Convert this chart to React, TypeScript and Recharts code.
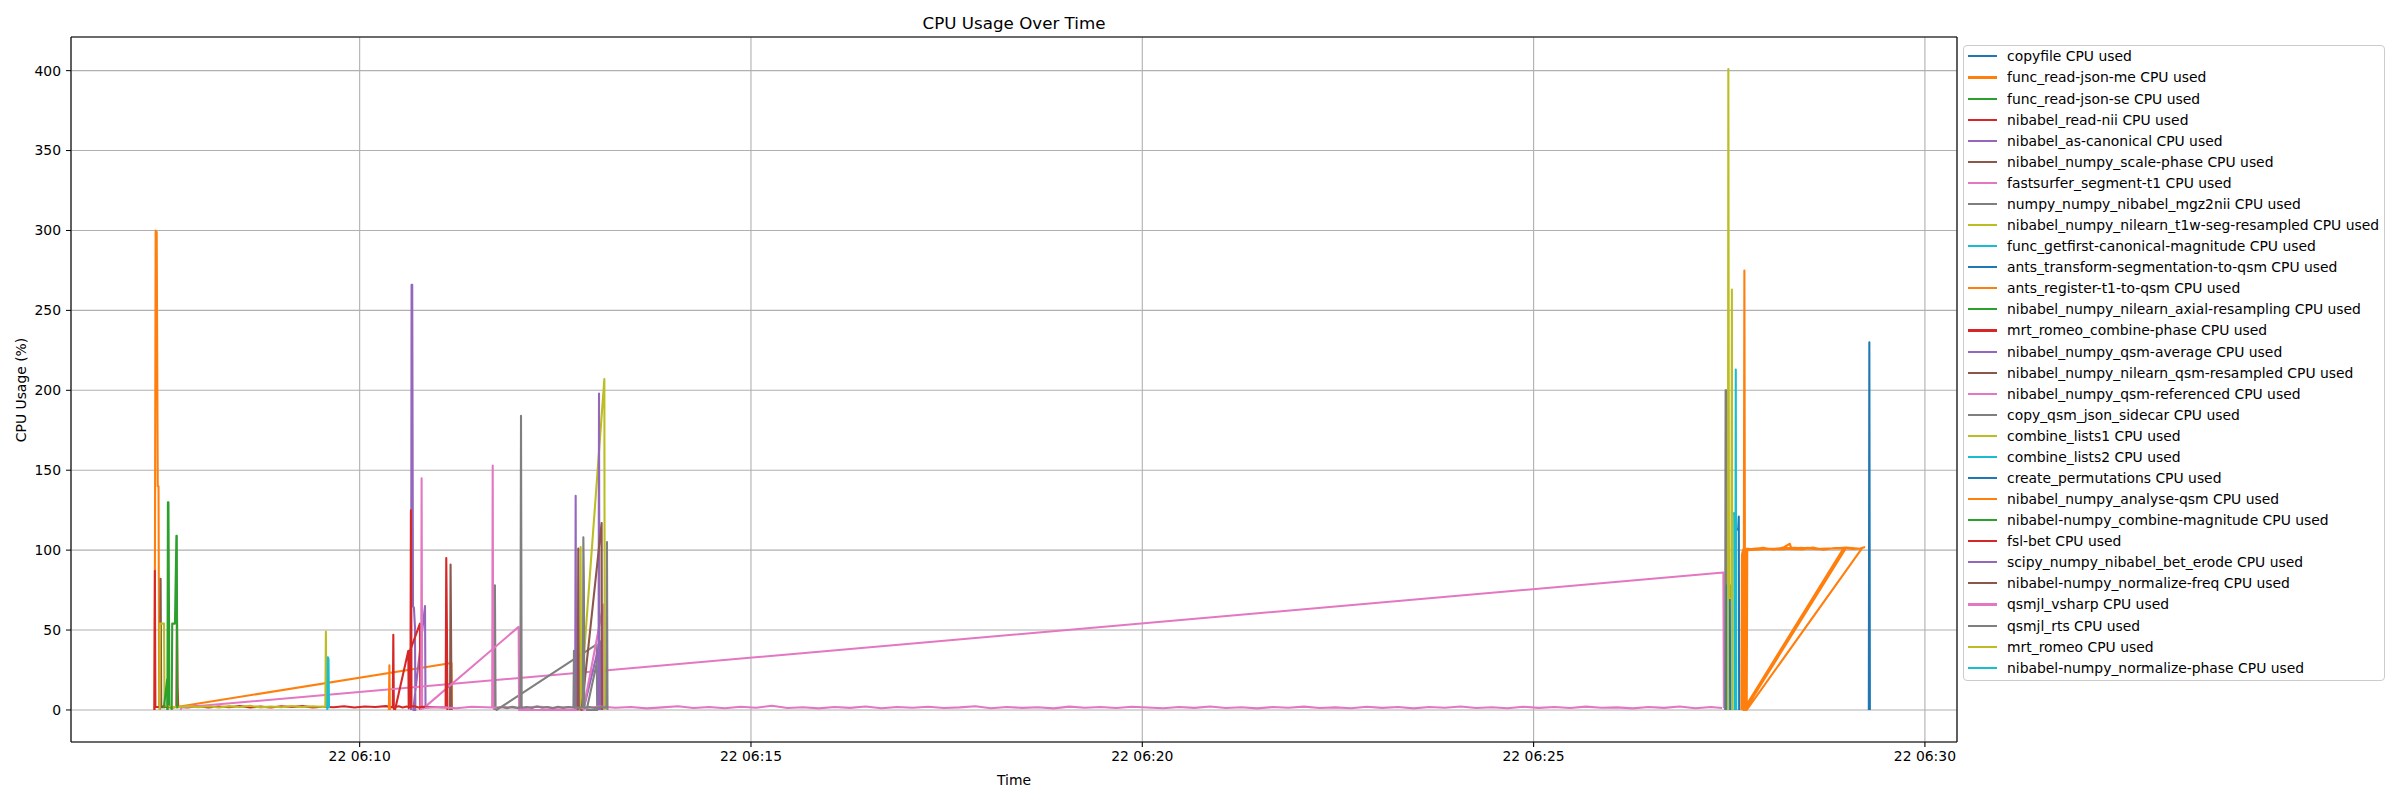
import React from 'react';
import { LineChart, Line, XAxis, YAxis, CartesianGrid, ReferenceLine } from 'recharts';

type Pt = [number, number];
// time = seconds after 22 06:00:00, value = CPU usage (%)

const copyfile: Pt[] = [[1757.0, 0], [1757.4, 230], [1757.8, 0]];
const funcReadJsonMe: Pt[] = [[442.8, 0], [443.6, 300], [444.4, 299], [445.2, 140], [445.8, 140], [446.3, 3], [450, 2.1], [455, 1.6], [460.9, 2], [670.4, 29.4], [670.8, 0]];
const funcReadJsonSe: Pt[] = [[452.6, 0], [453.0, 130], [453.4, 130], [453.8, 64], [454.1, 2], [455.5, 1.4]];
const nibabelReadNii: Pt[] = [[442.6, 0], [443.0, 87], [443.4, 2], [447, 1.6], [452, 2.2], [457, 1.5], [459.5, 2], [459.9, 62], [460.4, 15], [460.9, 2], [468, 1.6], [476, 2.4], [484, 1.5], [492, 2.2], [500, 1.7], [508, 2.5], [516, 1.6], [524, 2.1], [532, 1.5], [540, 2.3], [548, 1.8], [556, 2.4], [564, 1.6], [572, 2.0], [580, 1.7], [588, 2.3], [596, 1.5], [604, 2.2], [612, 1.8], [620, 2.4], [625.4, 1.6], [625.8, 47], [626.2, 1.5], [626.6, 0]];
const nibabelAsCanonical: Pt[] = [[639.4, 0], [639.8, 266], [640.3, 266], [640.9, 65], [641.6, 64], [642.4, 52], [642.7, 0], [641.1, 0], [650.1, 65], [650.5, 1]];
const scalePhase: Pt[] = [[446.9, 0], [447.4, 82], [447.9, 2], [449, 1.5]];
const fastsurfer: Pt[] = [[462.8, 0], [463.3, 1.5], [1645.5, 86], [1645.9, 1]];
const mgz2nii: Pt[] = [[703.3, 0], [703.7, 78], [704.2, 1], [705, 0], [781.7, 41], [782.1, 0], [774, 0], [784.3, 39], [784.7, 0]];
const t1wSegResampled: Pt[] = [[446.7, 0], [446.9, 54], [450, 54], [450.4, 3], [454, 2.2], [460, 1.6], [468, 2.5], [476, 1.7], [484, 2.3], [492, 1.5], [500, 2.4], [508, 1.8], [516, 2.6], [524, 1.6], [532, 2.2], [540, 1.7], [548, 2.5], [556, 1.9], [564, 2.3], [572, 1.8], [573.7, 2], [574.1, 49], [574.5, 2]];
const getfirstMagnitude: Pt[] = [[575.2, 0], [575.6, 33], [576.1, 32], [576.5, 1]];
const antsTransform: Pt[] = [[1654.5, 0], [1654.8, 113], [1656.9, 113], [1657.3, 121], [1657.6, 0]];
const antsRegister: Pt[] = [[622.4, 0], [622.8, 28], [623.2, 0]];
const axialResampling: Pt[] = [[455.9, 0], [456.3, 54], [458.4, 54], [459.5, 109], [459.8, 109], [460.2, 1]];
const romeoCombinePhase: Pt[] = [[627.1, 0], [637.3, 37], [637.6, 1], [638.6, 37], [646.2, 54], [646.5, 0]];
const qsmAverage: Pt[] = [[765.2, 0], [765.6, 134], [766, 2], [771.5, 0], [784.3, 43], [784.6, 0]];
const qsmResampled: Pt[] = [[669.3, 0], [669.7, 91], [670.1, 45], [670.4, 0]];
const qsmReferenced: Pt[] = [[647.1, 0], [647.5, 145], [647.9, 1], [648.8, 1], [721.9, 52], [722.2, 0], [771.5, 0], [786.8, 66], [787.1, 0]];
const copyQsmJson: Pt[] = [[1646.8, 0], [1647.2, 200], [1647.8, 200], [1648.1, 0]];
const combineLists1: Pt[] = [[769, 0], [769.4, 102], [769.8, 2], [768.9, 0], [787.6, 207], [787.9, 0]];
const combineLists2: Pt[] = [[1652.4, 0], [1652.7, 123], [1654.4, 123], [1654.7, 0]];
const createPermutations: Pt[] = [[1647.9, 0], [1648.2, 78], [1650.4, 78], [1650.7, 0]];
const analyseQsm: Pt[] = [
  [1659.3, 0], [1659.7, 97], [1660.5, 100], [1661.2, 101], [1661.6, 275], [1662.0, 101], [1668, 100.5], [1676, 101.5], [1684, 100.2], [1692, 101.8], [1696.5, 104], [1697.5, 101], [1706, 100.4], [1714, 101.6], [1722, 100.3], [1730, 101.2], [1737.5, 101],
  [1660.8, 0], [1661.2, 100], [1670, 101], [1680, 100.6], [1690, 101.3], [1700, 100.5], [1710, 101.4], [1720, 100.8], [1730, 101.1], [1739.3, 101],
  [1662.1, 0], [1662.5, 100], [1675, 101.2], [1690, 100.4], [1705, 101.5], [1720, 100.6], [1735, 101.3], [1745, 100.7], [1751.6, 101],
  [1663.4, 0], [1663.8, 100], [1680, 100.8], [1700, 101.4], [1720, 100.5], [1740, 101.6], [1750, 100.9], [1754.1, 102],
];
const combineMagnitude: Pt[] = [[449.8, 1], [452.4, 19], [452.7, 0]];
const fslBet: Pt[] = [[627, 1.8], [630, 2.3], [633, 1.6], [636, 2.2], [638.9, 1.7], [639.3, 125], [639.7, 2], [642, 2.4], [645, 1.5], [648, 2], [665.9, 1.5], [666.4, 95], [666.9, 50], [667.3, 0]];
const betErode: Pt[] = [[783.1, 0], [783.5, 198], [783.9, 0]];
const normalizeFreq: Pt[] = [[767.2, 0], [767.6, 101], [768, 2], [770.2, 0], [785.5, 117], [785.8, 0]];
const qsmjlVsharp: Pt[] = [
  [650, 1.3], [662, 1.9], [674, 1.1], [686, 2.0], [701.6, 1.5], [702, 153], [702.4, 1.4], [712, 1.8], [724, 1.0], [736, 2.1], [748, 1.3], [760, 1.7], [772, 1.1], [784, 2.2], [796, 1.4], [808, 1.9], [820, 1.0], [832, 1.6], [844, 2.3], [856, 1.2], [868, 1.8], [880, 1.1], [892, 2.0], [904, 1.4], [916, 2.6], [928, 1.2], [940, 1.7], [952, 1.0], [964, 1.9], [976, 1.3], [988, 2.2], [1000, 1.1], [1012, 1.8], [1024, 1.4], [1036, 2.0], [1048, 1.2], [1060, 1.6], [1072, 2.3], [1084, 1.1], [1096, 1.9], [1108, 1.3], [1120, 1.7], [1132, 1.0], [1144, 2.1], [1156, 1.4], [1168, 1.8], [1180, 1.2], [1192, 2.0], [1204, 1.5], [1216, 1.1], [1228, 1.9], [1240, 1.3], [1252, 2.2], [1264, 1.2], [1276, 1.7], [1288, 1.0], [1300, 1.8], [1312, 1.4], [1324, 2.1], [1336, 1.2], [1348, 1.6], [1360, 1.1], [1372, 2.0], [1384, 1.3], [1396, 1.8], [1408, 1.0], [1420, 1.9], [1432, 1.4], [1444, 2.2], [1456, 1.2], [1468, 1.7], [1480, 1.1], [1492, 2.0], [1504, 1.3], [1516, 1.8], [1528, 1.2], [1540, 2.1], [1552, 1.4], [1564, 1.6], [1576, 1.0], [1588, 1.9], [1600, 1.3], [1612, 2.2], [1624, 1.1], [1636, 1.8], [1644.5, 1.2],
];
const qsmjlRts: Pt[] = [[705, 1.2], [709, 1.8], [713, 1.1], [717, 2.0], [721, 1.3], [723.2, 1.6], [723.7, 184], [724.2, 1.4], [728, 1.9], [732, 1.2], [736, 2.1], [740, 1.4], [744, 1.8], [748, 1.1], [752, 2.0], [756, 1.3], [760, 1.9], [763.9, 1.5], [764.3, 37], [764.7, 1.5], [768, 1.2], [771.1, 1.8], [771.5, 108], [771.9, 80], [772.2, 1.4], [776, 1.8], [780, 1.2], [785, 1.9], [789.2, 1.4], [789.6, 105], [790, 0]];
const mrtRomeo: Pt[] = [[1648.9, 0], [1649.3, 401], [1649.8, 70], [1651.6, 70], [1652.0, 263], [1652.4, 0]];
const normalizePhase: Pt[] = [[1654.6, 0], [1655.0, 213], [1655.4, 0]];

const SERIES_NAMES = [
  'copyfile', 'func_read-json-me', 'func_read-json-se', 'nibabel_read-nii', 'nibabel_as-canonical',
  'nibabel_numpy_scale-phase', 'fastsurfer_segment-t1', 'numpy_numpy_nibabel_mgz2nii',
  'nibabel_numpy_nilearn_t1w-seg-resampled', 'func_getfirst-canonical-magnitude',
  'ants_transform-segmentation-to-qsm', 'ants_register-t1-to-qsm', 'nibabel_numpy_nilearn_axial-resampling',
  'mrt_romeo_combine-phase', 'nibabel_numpy_qsm-average', 'nibabel_numpy_nilearn_qsm-resampled',
  'nibabel_numpy_qsm-referenced', 'copy_qsm_json_sidecar', 'combine_lists1', 'combine_lists2',
  'create_permutations', 'nibabel_numpy_analyse-qsm', 'nibabel-numpy_combine-magnitude', 'fsl-bet',
  'scipy_numpy_nibabel_bet_erode', 'nibabel-numpy_normalize-freq', 'qsmjl_vsharp', 'qsmjl_rts',
  'mrt_romeo', 'nibabel-numpy_normalize-phase',
];
const SERIES_DATA: Pt[][] = [
  copyfile, funcReadJsonMe, funcReadJsonSe, nibabelReadNii, nibabelAsCanonical, scalePhase, fastsurfer,
  mgz2nii, t1wSegResampled, getfirstMagnitude, antsTransform, antsRegister, axialResampling,
  romeoCombinePhase, qsmAverage, qsmResampled, qsmReferenced, copyQsmJson, combineLists1, combineLists2,
  createPermutations, analyseQsm, combineMagnitude, fslBet, betErode, normalizeFreq, qsmjlVsharp, qsmjlRts,
  mrtRomeo, normalizePhase,
];
const TAB10 = ['#1f77b4', '#ff7f0e', '#2ca02c', '#d62728', '#9467bd', '#8c564b', '#e377c2', '#7f7f7f', '#bcbd22', '#17becf'];

const X_DOMAIN: [number, number] = [378.7, 1824.6];
const X_TICKS = [600, 900, 1200, 1500, 1800];
const Y_DOMAIN: [number, number] = [-20.05, 421.05];
const Y_TICKS = [0, 50, 100, 150, 200, 250, 300, 350, 400];

const FONT = '"DejaVu Sans", sans-serif';
const fmtTime = (t: number) => {
  const m = Math.floor(t / 60);
  return `22 06:${String(m).padStart(2, '0')}`;
};

export default function App() {
  const series = SERIES_DATA.map((pts, i) => ({
    name: `${SERIES_NAMES[i]} CPU used`,
    color: TAB10[i % 10],
    data: pts.map(([t, v]) => ({ t, v })),
  }));
  const tickStyle = { fontFamily: FONT, fontSize: 13.9, fill: '#000' };
  return (
    <div style={{ position: 'absolute', left: 0, top: 0, width: 2400, height: 800, background: '#fff', fontFamily: FONT }}>
      <LineChart width={2400} height={800} margin={{ top: 37, right: 443, bottom: 28, left: 11 }}>
        <CartesianGrid stroke="#b0b0b0" strokeWidth={1.1} />
        <XAxis
          type="number"
          dataKey="t"
          domain={X_DOMAIN}
          ticks={X_TICKS}
          allowDataOverflow
          tickFormatter={fmtTime}
          height={30}
          tickSize={5}
          tickMargin={4}
          stroke="#000"
          strokeWidth={1.1}
          tick={tickStyle}
          tickLine={{ stroke: '#000' }}
          axisLine={{ stroke: '#000', strokeWidth: 1.1 }}
        />
        <YAxis
          type="number"
          domain={Y_DOMAIN}
          ticks={Y_TICKS}
          allowDataOverflow
          width={60}
          tickSize={5}
          tickMargin={5}
          tick={tickStyle}
          tickLine={{ stroke: '#000' }}
          axisLine={{ stroke: '#000', strokeWidth: 1.1 }}
        />
        <ReferenceLine y={Y_DOMAIN[1]} stroke="#000" strokeWidth={1.1} ifOverflow="visible" />
        <ReferenceLine x={X_DOMAIN[1]} stroke="#000" strokeWidth={1.1} ifOverflow="visible" />
        {series.map((s) => (
          <Line
            key={s.name}
            data={s.data}
            dataKey="v"
            name={s.name}
            stroke={s.color}
            strokeWidth={2.08}
            strokeLinejoin="round"
            dot={false}
            activeDot={false}
            isAnimationActive={false}
          />
        ))}
      </LineChart>
      <div style={{ position: 'absolute', left: 1014, top: 22.5, transform: 'translate(-50%, -50%)', fontSize: 16.7, whiteSpace: 'nowrap', color: '#000' }}>
        CPU Usage Over Time
      </div>
      <div style={{ position: 'absolute', left: 1014, top: 780, transform: 'translate(-50%, -50%)', fontSize: 13.9, whiteSpace: 'nowrap', color: '#000' }}>
        Time
      </div>
      <div style={{ position: 'absolute', left: 20.5, top: 389.5, transform: 'translate(-50%, -50%) rotate(-90deg)', fontSize: 13.9, whiteSpace: 'nowrap', color: '#000' }}>
        CPU Usage (%)
      </div>
      <div style={{ position: 'absolute', left: 1963, top: 45, width: 422, height: 636, boxSizing: 'border-box', border: '1px solid #cccccc', borderRadius: 4, background: 'rgba(255,255,255,0.8)' }}>
        {series.map((s, i) => (
          <div key={s.name} style={{ position: 'absolute', left: 0, top: 10.4 + 21.08 * i - 9, height: 18, width: 420 }}>
            <div style={{ position: 'absolute', left: 4, top: 8, width: 29, height: 2.08, background: s.color }} />
            <div style={{ position: 'absolute', left: 43, top: 0, height: 18, lineHeight: '18px', fontSize: 13.9, whiteSpace: 'nowrap', color: '#000' }}>
              {s.name}
            </div>
          </div>
        ))}
      </div>
    </div>
  );
}
